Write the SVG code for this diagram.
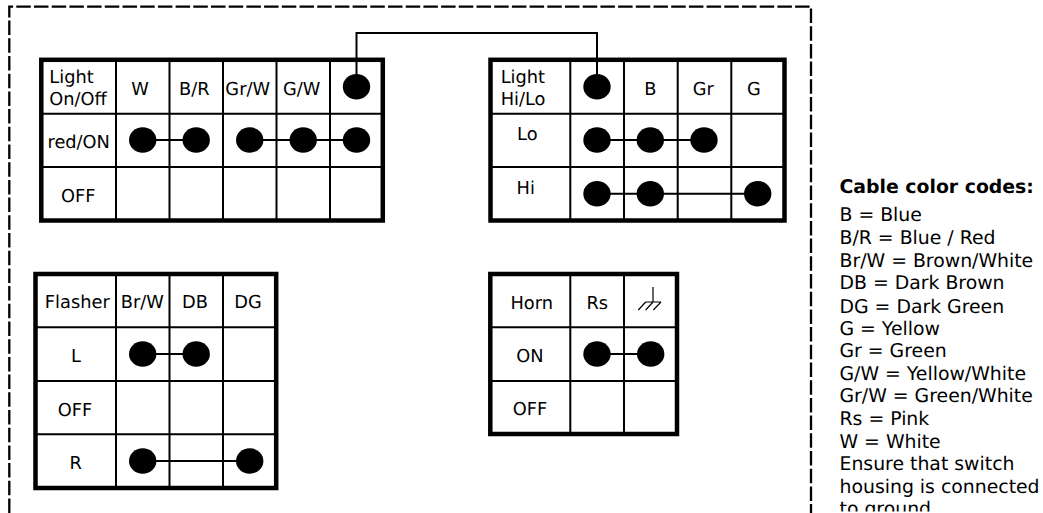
<svg xmlns="http://www.w3.org/2000/svg" width="1043" height="513" viewBox="0 0 1043 513">
<style>
text{font-family:"DejaVu Sans",sans-serif;font-size:17.8px;fill:#000;text-rendering:geometricPrecision}
.c{text-anchor:middle}
.l{font-size:18.85px}
.b{font-weight:bold}
.o{fill:#fff;stroke:#000;stroke-width:4.5}
.g{stroke:#000;stroke-width:2;fill:none}
.s{stroke:#000;stroke-width:1.2;fill:none}
.w{stroke:#000;stroke-width:2;fill:none}
.d{fill:#000}
.h{fill:none;stroke:#000;stroke-width:2.300;stroke-dasharray:14.5 3.2}
</style>
<defs>
<ellipse id="dot" class="d" rx="13.7" ry="12.7"/>
<clipPath id="clip"><rect x="830" y="170" width="213" height="341.500"/></clipPath>
</defs>
<path id="frame" class="h" d="M9.300 513V6.700H811V513"/>
<g id="light-onoff">
<rect class="o" x="41.300" y="59.800" width="341.500" height="160.700"/>
<path class="g" d="M116 60V220M169.500 60V220M223 60V220M276.500 60V220M330 60V220M41 113.700H383M41 167H383"/>
<text x="49.300" y="83">Light</text><text x="49.300" y="105">On/Off</text>
<text class="c" x="140" y="95">W</text><text class="c" x="194.300" y="95">B/R</text><text class="c" x="247.700" y="95">Gr/W</text><text class="c" x="301.700" y="95">G/W</text>
<text class="c" x="78.700" y="148.300">red/ON</text><text class="c" x="78.300" y="201.700">OFF</text>
<use href="#dot" x="356.500" y="86.700"/>
<use href="#dot" x="142.700" y="140"/><use href="#dot" x="196.200" y="140"/><use href="#dot" x="249.700" y="140"/><use href="#dot" x="303.200" y="140"/><use href="#dot" x="356.500" y="140"/>
</g>
<g id="light-hilo">
<rect class="o" x="490.500" y="59.800" width="294" height="160.700"/>
<path class="g" d="M570.300 60V220M624 60V220M677.700 60V220M731.300 60V220M490 113.700H784M490 167H784"/>
<text x="500.700" y="83">Light</text><text x="500.700" y="105">Hi/Lo</text>
<text class="c" x="650.300" y="95">B</text><text class="c" x="703.300" y="95">Gr</text><text class="c" x="754" y="95">G</text>
<text class="c" x="527.300" y="140">Lo</text><text class="c" x="525.700" y="194">Hi</text>
<use href="#dot" x="597" y="86.700"/>
<use href="#dot" x="597" y="140"/><use href="#dot" x="650.300" y="140"/><use href="#dot" x="704" y="140"/>
<use href="#dot" x="597" y="193.700"/><use href="#dot" x="650.300" y="193.700"/><use href="#dot" x="757.700" y="193.700"/>
</g>
<g id="flasher">
<rect class="o" x="35.500" y="274" width="240.700" height="214"/>
<path class="g" d="M116 274V488M169.500 274V488M223 274V488M35 327.300H276M35 381H276M35 434.300H276"/>
<text class="c" x="77.300" y="308.300">Flasher</text><text class="c" x="142.300" y="308.300">Br/W</text><text class="c" x="195" y="308.300">DB</text><text class="c" x="248" y="308.300">DG</text>
<text class="c" x="76" y="362.300">L</text><text class="c" x="75" y="415.700">OFF</text><text class="c" x="75.700" y="469">R</text>
<use href="#dot" x="142.700" y="354"/><use href="#dot" x="196.200" y="354"/>
<use href="#dot" x="142.700" y="461"/><use href="#dot" x="249.700" y="461"/>
</g>
<g id="horn">
<rect class="o" x="490.300" y="274" width="186.700" height="160"/>
<path class="g" d="M570.300 274V434M624 274V434M490 327.300H677M490 381H677"/>
<text class="c" x="531.700" y="309">Horn</text><text class="c" x="597.300" y="309">Rs</text>
<text class="c" x="530" y="361.700">ON</text><text class="c" x="530" y="415">OFF</text>
<path class="s" d="M653 287V302M645.700 302H661M645.700 302L638.300 310M653 302L645.700 310M661 302L653.300 310"/>
<use href="#dot" x="597" y="354"/><use href="#dot" x="650.700" y="354"/>
</g>
<g id="connectors">
<path class="w" d="M356.500 86V33H597V86"/>
<path class="w" d="M142.700 140H196.200M249.700 140H356.500M597 140H704M597 193.700H757.700M142.700 354H196.200M142.700 461H249.700M597 354H650.700"/>
</g>
<g id="legend" clip-path="url(#clip)">
<text class="l b" x="839.500" y="192.700">Cable color codes:</text>
<text class="l" x="839.500" y="221">B = Blue</text>
<text class="l" x="839.500" y="244">B/R = Blue / Red</text>
<text class="l" x="839.500" y="267">Br/W = Brown/White</text>
<text class="l" x="839.500" y="289.300">DB = Dark Brown</text>
<text class="l" x="839.500" y="312.700">DG = Dark Green</text>
<text class="l" x="839.500" y="335">G = Yellow</text>
<text class="l" x="839.500" y="357">Gr = Green</text>
<text class="l" x="839.500" y="380">G/W = Yellow/White</text>
<text class="l" x="839.500" y="402.300">Gr/W = Green/White</text>
<text class="l" x="839.500" y="425">Rs = Pink</text>
<text class="l" x="839.500" y="447.700">W = White</text>
<text class="l" x="839.500" y="470">Ensure that switch</text>
<text class="l" x="839.500" y="492.700">housing is connected</text>
<text class="l" x="839.500" y="515">to ground</text>
</g>
</svg>
